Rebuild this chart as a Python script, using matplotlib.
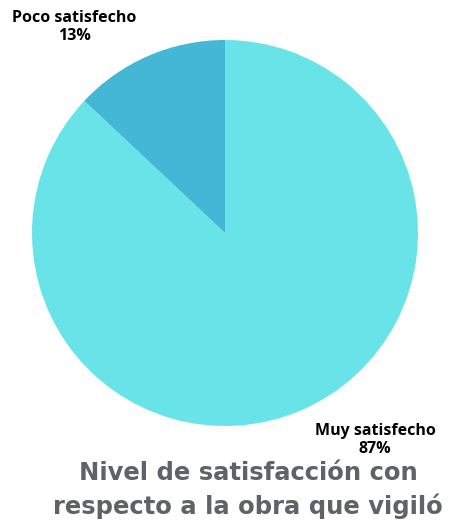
import matplotlib.pyplot as plt

categorias = ['Muy satisfecho', 'Poco satisfecho']
porcentajes = [87, 13]
colores = ['#68E4E9', '#45B7D6']

fig = plt.figure(figsize=(4.61, 5.25), dpi=100)
ax = fig.add_axes([32/461, 99/525, 386/461, 386/525])
ax.pie(porcentajes, colors=colores, startangle=90, counterclock=False,
       radius=1, wedgeprops={'linewidth': 0})
ax.set_xlim(-1, 1)
ax.set_ylim(-1, 1)
ax.set_aspect('equal')
ax.axis('off')

# etiquetas
fig.text(375/461, 1 - 440/525, f'{categorias[0]}\n{porcentajes[0]}%', ha='center', va='center',
         fontsize=11.5, fontweight='bold', family='Open Sans', linespacing=1.2)
fig.text(74/461, 1 - 27/525, f'{categorias[1]}\n{porcentajes[1]}%', ha='center', va='center',
         fontsize=11.5, fontweight='bold', family='Open Sans', linespacing=1.2)

fig.text(248/461, 1 - 490/525, 'Nivel de satisfacción con\nrespecto a la obra que vigiló',
         ha='center', va='center', fontsize=17.5, fontweight='bold', color='#5F6368',
         family='DejaVu Sans', linespacing=1.45)

fig.savefig('out.png', dpi=100)
